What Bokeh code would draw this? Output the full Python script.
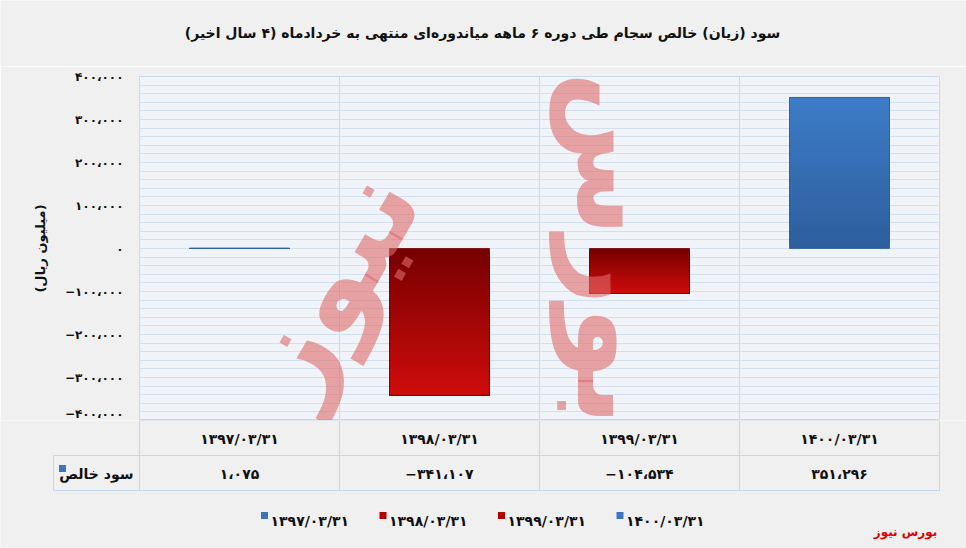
import math
from bokeh.plotting import figure
from bokeh.models import Range1d, FixedTicker, ColumnDataSource
from bokeh.layouts import column
from bokeh.embed import file_html
from bokeh.resources import INLINE
from bokeh.core.properties import value

# ---------------- data ----------------
categories = ["1397/03/31", "1398/03/31", "1399/03/31", "1400/03/31"]
net_profit = [1075, -341107, -104534, 351296]
y_ticks = [-400000, -300000, -200000, -100000, 0, 100000, 200000, 300000, 400000]
series_name = "سود خالص"
title_text = "سود (زیان) خالص سجام طی دوره ۶ ماهه میاندوره‌ای منتهی به خردادماه (۴ سال اخیر)"
y_label = "(میلیون ریال)"
brand_text = "بورس نیوز"
watermark_words = ["بورس", "نیوز"]

# ---------------- styles ----------------
dark_cols = ["#2d5e9c", "#760000", "#760000", "#2d5e9c"]
light_cols = ["#3d7cc8", "#d00c0c", "#d00c0c", "#3d7cc8"]
legend_cols = ["#3f74bb", "#b00000", "#b00000", "#3f74bb"]
FONT = "DejaVu Sans"
RLM = "\u200f"
BG = "#f0f0f0"
W, H_TITLE, H_TOP, H_BOT = 966, 66, 354, 128

FA = str.maketrans("0123456789,-", "۰۱۲۳۴۵۶۷۸۹،−")


def fa(s):
    return str(s).translate(FA)


def fa_num(v):
    return fa(f"{v:,}")


def mix(c1, c2, t):
    a = [int(c1[i:i + 2], 16) for i in (1, 3, 5)]
    b = [int(c2[i:i + 2], 16) for i in (1, 3, 5)]
    return "#" + "".join(f"{round(a[k] + (b[k] - a[k]) * t):02x}" for k in range(3))


def blank(height, xr, yr):
    f = figure(width=W, height=height, x_range=xr, y_range=yr,
               output_backend="svg", toolbar_location=None,
               min_border_left=0, min_border_right=0, min_border_top=0, min_border_bottom=0,
               background_fill_color=BG, border_fill_color=BG, outline_line_color=None,
               frame_align=False)
    f.axis.visible = False
    f.grid.visible = False
    return f


# ---------------- title strip ----------------
tf = blank(H_TITLE, Range1d(0, W), Range1d(H_TITLE, 0))
tf.text(x=[W / 2 - 1], y=[32], text=[RLM + title_text + RLM], text_font=value(FONT),
        text_font_size="14px", text_font_style="bold", text_color="#111111",
        text_align="center", text_baseline="middle")

# ---------------- chart ----------------
p = figure(width=W, height=H_TOP, x_range=Range1d(0, 4), y_range=Range1d(-400000, 400000),
           output_backend="svg", toolbar_location=None,
           min_border_left=139, min_border_right=27, min_border_top=10, min_border_bottom=0,
           background_fill_color="#f0f3f7", border_fill_color=BG,
           outline_line_color="#c9daee", frame_align=False)

p.xaxis.visible = False
p.xgrid.ticker = FixedTicker(ticks=[1, 2, 3])
p.xgrid.grid_line_color = "#c9daee"
p.ygrid.ticker = FixedTicker(ticks=list(range(-400000, 400001, 20000)))
p.ygrid.grid_line_color = "#d3e0ef"

yax = p.yaxis[0]
yax.ticker = FixedTicker(ticks=y_ticks)
yax.major_label_overrides = {t: fa_num(t) for t in y_ticks}
yax.axis_line_color = None
yax.major_tick_line_color = None
yax.minor_tick_line_color = None
yax.major_tick_out = 0
yax.major_tick_in = 0
yax.major_label_standoff = 16
yax.major_label_text_font = FONT
yax.major_label_text_font_size = "12px"
yax.major_label_text_font_style = "bold"
yax.major_label_text_color = "#111111"
yax.axis_label = RLM + y_label + RLM
yax.axis_label_text_font = FONT
yax.axis_label_text_font_size = "13px"
yax.axis_label_text_font_style = "bold"
yax.axis_label_text_color = "#111111"
yax.axis_label_standoff = 14

# gradient bars (nested slices computed from each value, no seams)
N = 40
L, R, B, T, C = [], [], [], [], []
for i, v in enumerate(net_profit):
    for k in range(N):
        a = v * k / N
        L.append(i + 0.25)
        R.append(i + 0.75)
        B.append(min(a, v))
        T.append(max(a, v))
        C.append(mix(dark_cols[i], light_cols[i], (k + 0.5) / N))
p.quad(left="l", right="r", bottom="b", top="t", fill_color="c", line_color=None,
       source=ColumnDataSource(dict(l=L, r=R, b=B, t=T, c=C)))
p.quad(left=[i + 0.25 for i in range(len(net_profit))],
       right=[i + 0.75 for i in range(len(net_profit))],
       bottom=[min(0, v) for v in net_profit], top=[max(0, v) for v in net_profit],
       fill_color=None, line_color=dark_cols, line_width=1, line_alpha=0.8)

# watermark
p.text(x=[2.4, 0.95], y=[0, -80000], text=watermark_words, angle=[-math.pi / 2, math.pi / 3],
       text_font=value(FONT), text_font_size="120px", text_font_style="bold",
       text_color="#df6b6b", text_alpha=0.6, text_align="center", text_baseline="middle")

# ---------------- table + legend ----------------
x0 = -139 / 200.0
q = blank(H_BOT, Range1d(x0, x0 + W / 200.0), Range1d(H_BOT, 0))

n = len(categories)
tl = "#c5d7ec"
q.segment(x0=[0, -0.43, -0.43], x1=[n, n, n], y0=[0, 35, 70], y1=[0, 35, 70],
          line_color=tl, line_width=1)
q.segment(x0=list(range(n + 1)) + [-0.43], x1=list(range(n + 1)) + [-0.43],
          y0=[0] * (n + 1) + [35], y1=[70] * (n + 1) + [70], line_color=tl, line_width=1)

q.text(x=[i + 0.5 for i in range(n)], y=[18] * n, text=[fa(c) for c in categories],
       text_font=value(FONT), text_font_size="14px", text_font_style="bold",
       text_color="#111111", text_align="center", text_baseline="middle")
q.text(x=[i + 0.5 for i in range(n)], y=[53] * n, text=[fa_num(v) for v in net_profit],
       text_font=value(FONT), text_font_size="14px", text_font_style="bold",
       text_color="#111111", text_align="center", text_baseline="middle")
q.scatter(x=[-0.385], y=[48], marker="square", size=7, fill_color="#3f74bb", line_color=None)
q.text(x=[-0.03], y=[53], text=[series_name],
       text_font=value(FONT), text_font_size="14px", text_font_style="bold",
       text_color="#111111", text_align="right", text_baseline="middle")

# legend (squares + labels, evenly spaced along the bottom)
leg_px = [264 + 118.5 * i for i in range(n)]
leg_x = [(px - 139) / 200.0 for px in leg_px]
q.scatter(x=leg_x, y=[95] * n, marker="square", size=7, fill_color=legend_cols, line_color=None)
q.text(x=[lx + 0.03 for lx in leg_x], y=[100] * n, text=[fa(c) for c in categories],
       text_font=value(FONT), text_font_size="14px", text_font_style="bold",
       text_color="#111111", text_align="left", text_baseline="middle")

q.text(x=[3.83], y=[111], text=[brand_text], text_font=value(FONT), text_font_size="12px",
       text_font_style="bold", text_color="#e00000", text_align="center", text_baseline="middle")

layout = column(tf, p, q, spacing=0)
open("out.html", "w").write(file_html(layout, INLINE))
